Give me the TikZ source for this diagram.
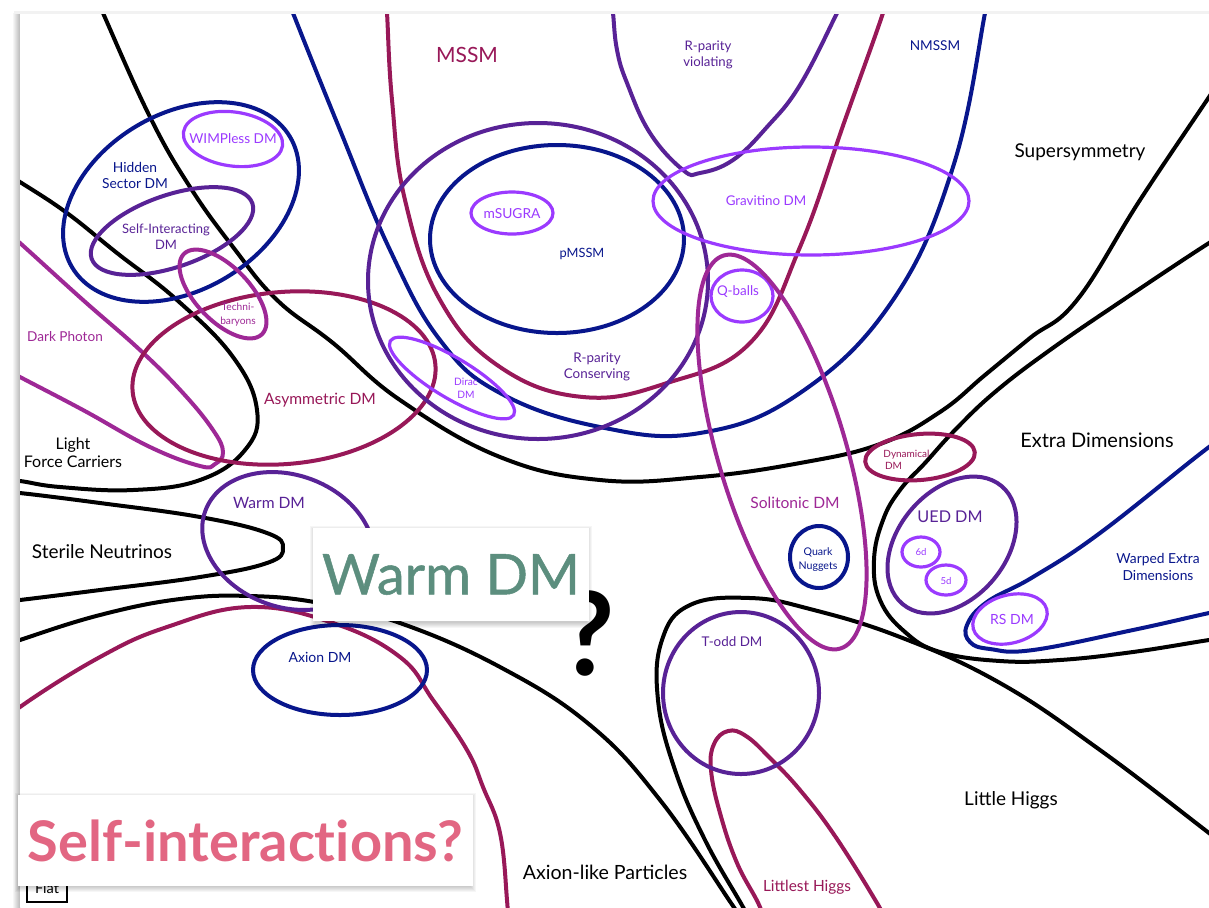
\documentclass[tikz,border=0pt]{standalone}
\usepackage{fontspec}
\setmainfont{Lato}
\newfontfamily\panelfont[FakeBold=0.9]{Lato}
\newfontfamily\selffont[Ligatures={NoCommon,NoRare,NoContextual}]{Lato}
\usetikzlibrary{calc}
\definecolor{crim}{RGB}{152,24,88}
\definecolor{navy}{RGB}{8,22,140}
\definecolor{purp}{RGB}{88,34,150}
\definecolor{viol}{RGB}{155,58,255}
\definecolor{mage}{RGB}{158,40,150}
\definecolor{wteal}{RGB}{92,142,126}
\definecolor{pinkt}{RGB}{226,102,130}
% ellipse: style, centre, x radius, y radius, rotation
\newcommand{\elp}[5]{\draw[#1, rotate around={#5:(#2)}] (#2) ellipse [x radius=#3, y radius=#4];}
\newcommand{\fz}[2]{\fontsize{#1}{#2}\selectfont}
\tikzset{
  bd/.style={line width=2pt, line join=round},
  thin bd/.style={line width=1.6pt},
  lbl/.style={inner sep=0pt, align=center},
  curve/.style={smooth, tension=0.7}
}
\begin{document}
\begin{tikzpicture}[x=0.5pt,y=-0.5pt]
\useasboundingbox (0,0) rectangle (1209,907);
\fill[white] (0,0) rectangle (1209,907);
% slide edge
\shade[left color=white, right color=black!28] (12,13) rectangle (20,907);
\fill[black!5] (14,11) rectangle (1209,14);

\begin{scope}
\clip (20,14) rectangle (1209,907);
\fill[white] (20,14) rectangle (1209,907);

% ---------- large open regions ----------
% Supersymmetry
\draw[bd, black] plot[curve] coordinates {(96,-5) (103,13) (150,117) (190,187) (233,247) (277,300) (333,343) (400,400) (500,457) (600,480) (700,477) (800,463) (880,444) (940,412) (985,375) (1030,338) (1077,300) (1140,200) (1209,97) (1230,65)};
% Light force carriers
\draw[bd, black] plot[curve] coordinates {(0,170) (20,182) (67,213) (117,253) (177,300) (233,357) (257,410) (245,450) (200,480) (133,490) (60,487) (20,481) (0,480)};
% Sterile neutrinos
\draw[bd, black] plot[curve] coordinates {(0,492) (20,493) (100,503) (200,517) (267,533) (283,548) (267,563) (200,577) (100,590) (20,600) (0,602)};
% Axion-like particles
\draw[bd, black] plot[curve] coordinates {(0,648) (20,640) (100,615) (180,599) (250,596) (320,603) (400,623) (500,667) (590,725) (660,800) (731,903) (745,925)};
% Little Higgs
\draw[bd, black] plot[curve] coordinates {(752,925) (743,907) (705,840) (675,770) (658,700) (662,640) (690,605) (750,598) (810,609) (900,637) (1000,683) (1100,750) (1209,833) (1240,857)};
% Extra dimensions
\draw[bd, black] plot[curve] coordinates {(1240,225) (1209,243) (1123,300) (1050,350) (995,392) (955,430) (925,463) (900,490) (883,520) (874,560) (880,600) (905,632) (940,652) (1000,661) (1060,660) (1133,652) (1209,640) (1240,636)};
% MSSM
\draw[bd, crim] plot[curve] coordinates {(385,-10) (387,13) (392,100) (405,200) (440,300) (500,367) (583,397) (667,383) (750,343) (800,247) (845,120) (883,13) (888,-10)};
% NMSSM
\draw[bd, navy] plot[curve] coordinates {(285,-10) (293,13) (340,130) (390,250) (440,340) (500,393) (600,427) (700,433) (800,393) (893,300) (953,167) (985,13) (988,-10)};
% R-parity violating
\draw[bd, purp] plot[curve] coordinates {(611,-5) (613,13) (617,50) (627,83) (650,133) (683,170) (700,173) (733,160) (767,127) (800,85) (837,13) (845,-5)};
% Dark photon
\draw[bd, mage] plot[curve] coordinates {(0,226) (20,243) (83,300) (140,350) (183,393) (213,430) (223,452) (215,464) (200,466) (150,447) (83,410) (20,377) (0,366)};
% lower left region
\draw[bd, crim] plot[curve] coordinates {(0,728) (20,707) (100,657) (167,627) (250,607) (333,623) (400,657) (433,700) (467,750) (483,787) (500,833) (507,900) (508,925)};
% Warped extra dimensions
\draw[bd, navy] plot[curve] coordinates {(1240,428) (1209,447) (1100,533) (1033,577) (987,602) (967,625) (970,642) (990,649) (1033,650) (1133,630) (1209,613) (1240,607)};
% Littlest Higgs
\draw[bd, crim] plot[curve] coordinates {(765,930) (760,907) (737,863) (720,813) (711,770) (714,744) (728,731) (746,736) (770,758) (800,790) (835,836) (877,903) (888,925)};

% ---------- closed regions ----------
\elp{bd, crim}{284,378}{152}{86}{5}
\elp{bd, navy}{181,202}{127}{88}{31}
\elp{bd, purp}{172,231}{85}{36}{19}
\elp{thin bd, viol}{233,139}{50}{27}{-8}
\elp{bd, mage}{223,294}{56}{27}{-46}
\elp{bd, purp}{288,541}{88}{66}{-20}
\elp{bd, navy}{340,670}{87}{45}{0}
\elp{bd, purp}{538,281}{170}{158}{0}
\elp{bd, navy}{557,239}{127}{94}{0}
\elp{thin bd, viol}{512,213}{41}{21}{0}
\elp{thin bd, viol}{452,378}{72}{20}{-31}
\elp{thin bd, viol}{811,201}{158}{54}{0}
\elp{thin bd, viol}{742,296}{31}{26}{0}
\elp{bd, mage}{782,452}{205}{64}{-73.5}
\elp{bd, navy}{819,557}{29}{31}{0}
\elp{bd, crim}{920,457}{55}{23}{5}
\elp{bd, purp}{952,545}{77}{54}{50}
\elp{thin bd, viol}{921,552}{19}{15}{0}
\elp{thin bd, viol}{946,580}{20}{15}{0}
\elp{thin bd, viol}{1010,619}{38}{24}{15}
\elp{bd, purp}{741,693}{78}{81}{0}
\end{scope}

% ---------- labels ----------
\node[lbl, text=crim, font=\fz{10.5}{12}] (lmssm) at (467,55) {MSSM};
\node[lbl, text=purp, font=\fz{6.6}{8}] (lrpv) at (708,55) {R-parity\\violating};
\node[lbl, text=navy, font=\fz{6.8}{8}] (lnmssm) at (935,46) {NMSSM};
\node[lbl, text=black, font=\fz{9.5}{11}] (lsusy) at (1080,152) {Supersymmetry};
\node[lbl, text=navy, font=\fz{6.9}{8}] (lhid) at (135,175) {Hidden\\Sector DM};
\node[lbl, text=viol, font=\fz{6.8}{8}] (lwimp) at (233,139) {WIMPless DM};
\node[lbl, text=purp, font=\fz{6.5}{8}] (lsidm) at (166,237) {Self-Interacting\\DM};
\node[lbl, text=mage, font=\fz{5.1}{7}] (ltech) at (238,315) {Techni-\\baryons};
\node[lbl, text=mage, font=\fz{6.8}{8}] (ldph) at (65,337) {Dark Photon};
\node[lbl, text=crim, font=\fz{7.8}{9}] (lasym) at (320,400) {Asymmetric DM};
\node[lbl, text=black, font=\fz{8}{9}] (llfc) at (73,453) {Light\\Force Carriers};
\node[lbl, text=black, font=\fz{9.5}{11}] (lster) at (102,552) {Sterile Neutrinos};
\node[lbl, text=purp, font=\fz{7.8}{9}] (lwarm) at (269,503) {Warm DM};
\node[lbl, text=navy, font=\fz{7}{8}] (laxdm) at (320,657) {Axion DM};
\node[lbl, text=black, font=\fz{9.8}{11}] (lalp) at (605,872) {Axion-like Particles};
\node[lbl, text=purp, font=\fz{6.7}{8}] (ltodd) at (732,642) {T-odd DM};
\node[lbl, text=crim, font=\fz{7.7}{9}] (llest) at (807,887) {Littlest Higgs};
\node[lbl, text=black, font=\fz{9.5}{11}] (llh) at (1011,800) {Little Higgs};
\node[lbl, text=navy, font=\fz{6.4}{8}] (lpmssm) at (582,254) {pMSSM};
\node[lbl, text=viol, font=\fz{6.9}{8}] (lmsugra) at (512,214) {mSUGRA};
\node[lbl, text=purp, font=\fz{6.7}{8}] (lrpc) at (597,367) {R-parity\\Conserving};
\node[lbl, text=viol, font=\fz{5.1}{6.5}] (ldirac) at (466,388) {Dirac\\DM};
\node[lbl, text=viol, font=\fz{6.7}{8}] (lgrav) at (766,201) {Gravitino DM};
\node[lbl, text=viol, font=\fz{6.7}{8}] (lqb) at (738,292) {Q-balls};
\node[lbl, text=mage, font=\fz{7.8}{9}] (lsol) at (795,503) {Solitonic DM};
\node[lbl, text=navy, font=\fz{5.3}{7}] (lqn) at (818,560) {Quark\\Nuggets};
\node[lbl, text=black, font=\fz{10}{11}] (led) at (1097,440) {Extra Dimensions};
\node[lbl, text=crim, font=\fz{5}{5.8}, align=left, anchor=west] (ldyn) at (883,460) {Dynamical\\\,DM};
\node[lbl, text=purp, font=\fz{8.1}{9}] (lued) at (950,517) {UED DM};
\node[lbl, text=viol, font=\fz{4.8}{6}] (l6d) at (921,552) {6d};
\node[lbl, text=viol, font=\fz{4.8}{6}] (l5d) at (946,581) {5d};
\node[lbl, text=navy, font=\fz{6.9}{8.5}] (lwarp) at (1158,567) {Warped Extra\\Dimensions};
\node[lbl, text=viol, font=\fz{7}{8}] (lrs) at (1012,619) {RS DM};

% question mark beside the Warm DM panel
\node[lbl, text=black, font=\fz{58}{60}\bfseries, anchor=base] (qm) at (588,675) {?};

% ---------- overlay panels ----------
\foreach \i in {1,...,6}
  \fill[black, opacity=0.035] (316-\i,532-\i) rectangle (586+\i,622+\i);
\node[fill=white, inner sep=0pt, minimum width=138pt, minimum height=46.5pt,
      text=wteal, font=\panelfont\fz{28}{30}] (wbox) at (451,574.5) {Warm DM};

\node[draw=black, line width=0.8pt, minimum width=20pt, minimum height=11pt,
      inner sep=0pt, font=\fz{7.3}{8}] (flat) at (47,891) {\raisebox{-1pt}[0pt][0pt]{Flat}};
\foreach \i in {1,...,6}
  \fill[black, opacity=0.035] (21-\i,799-\i) rectangle (470+\i,886+\i);
\node[fill=white, inner sep=0pt, minimum width=227.5pt, minimum height=45.5pt,
      text=pinkt, font=\selffont\fz{28}{30}\bfseries] (sbox) at (245.5,840.5) {Self-interact\kern0pt ions?};
\end{tikzpicture}
\end{document}
